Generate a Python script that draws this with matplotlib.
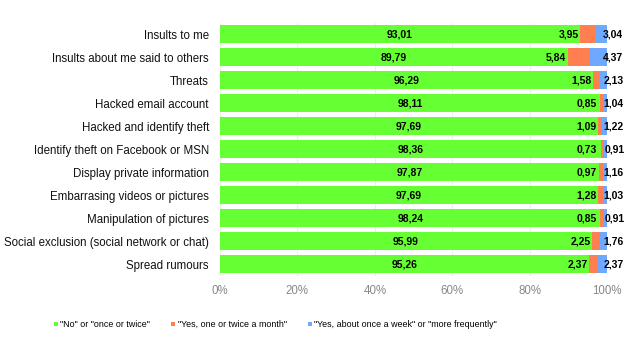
import matplotlib
matplotlib.use("Agg")
import matplotlib.pyplot as plt
import numpy as np

categories = ["Insults to me", "Insults about me said to others", "Threats",
              "Hacked email account", "Hacked and identify theft",
              "Identify theft on Facebook or MSN", "Display private information",
              "Embarrasing videos or pictures", "Manipulation of pictures",
              "Social exclusion (social network or chat)", "Spread rumours"]
no_once = [93.01, 89.79, 96.29, 98.11, 97.69, 98.36, 97.87, 97.69, 98.24, 95.99, 95.26]
monthly = [3.95, 5.84, 1.58, 0.85, 1.09, 0.73, 0.97, 1.28, 0.85, 2.25, 2.37]
weekly = [3.04, 4.37, 2.13, 1.04, 1.22, 0.91, 1.16, 1.03, 0.91, 1.76, 2.37]
series_names = ['"No" or "once or twice"', '"Yes, one or twice a month"',
                '"Yes, about once a week" or "more frequently"']
xticks = [0, 20, 40, 60, 80, 100]
xticklabels = ["0%", "20%", "40%", "60%", "80%", "100%"]

colors = ["#66FF33", "#FF7F50", "#6EA8FF"]

plt.rcParams['font.family'] = ['Liberation Sans', 'DejaVu Sans']
fig = plt.figure(figsize=(6.29, 3.53), dpi=100)
ax = fig.add_axes([0.3498, 0.2195, 0.6153, 0.7165])

y = np.arange(len(categories))
a = np.array(no_once); b = np.array(monthly); c = np.array(weekly)
h = 0.78
ax.barh(y, a, height=h, color=colors[0], label=series_names[0], zorder=2)
ax.barh(y, b, left=a, height=h, color=colors[1], label=series_names[1], zorder=2)
ax.barh(y, c, left=a + b, height=h, color=colors[2], label=series_names[2], zorder=2)

for i in range(len(categories)):
    ax.text(a[i] / 2, y[i], f"{a[i]:.2f}".replace('.', ','), ha='center', va='center',
            fontsize=7.5, fontweight='bold', color='black', zorder=3)
    ax.text(min(a[i] - 0.3, 97.3), y[i], f"{b[i]:.2f}".replace('.', ','), ha='right', va='center',
            fontsize=7.5, fontweight='bold', color='black', zorder=3)
    ax.text(max(a[i] + b[i] + 0.2, 99.0), y[i], f"{c[i]:.2f}".replace('.', ','), ha='left', va='center',
            fontsize=7.5, fontweight='bold', color='black', zorder=3)

ax.set_ylim(len(categories) - 0.5, -0.5)
ax.set_xlim(0, 100)
ax.set_yticks(y)
ax.set_yticklabels(categories, fontsize=8.3, color='#111111')
ax.set_xticks(xticks)
ax.set_xticklabels(xticklabels, fontsize=8.3, color='#888888')
ax.tick_params(axis='both', length=0)
ax.tick_params(axis='y', pad=8)
ax.tick_params(axis='x', pad=7)
ax.grid(axis='x', color='#eeeeee', linewidth=0.8, zorder=0)
for s in ax.spines.values():
    s.set_visible(False)

fig.legend(loc='center', bbox_to_anchor=(0.438, 0.08), ncol=3, frameon=False,
           prop={'size': 6.4}, handlelength=0.45, handleheight=0.45, handletextpad=0.25,
           columnspacing=2.4)

fig.savefig("out.png", dpi=100)
